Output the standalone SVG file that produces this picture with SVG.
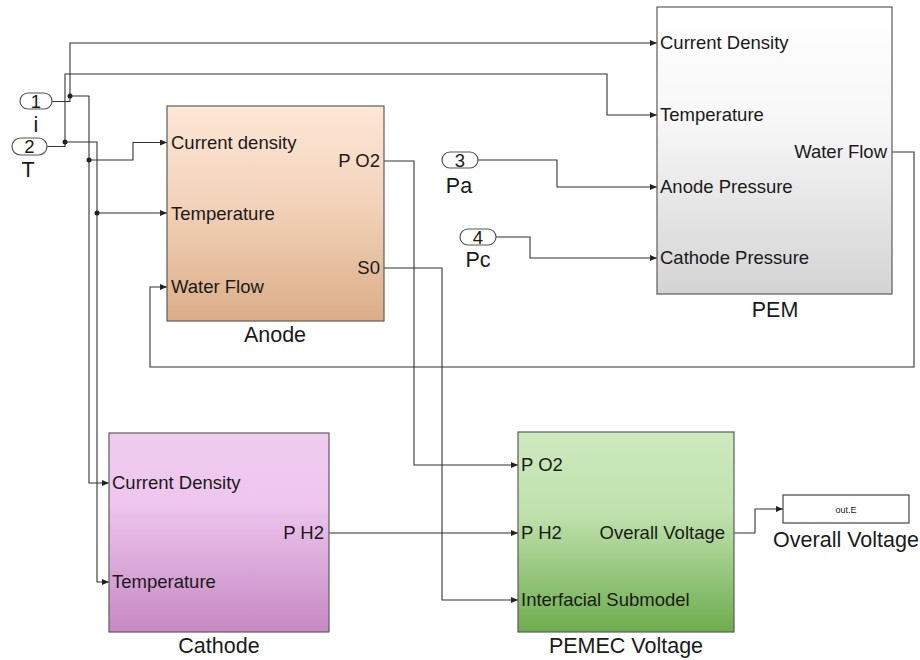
<svg xmlns="http://www.w3.org/2000/svg" width="920" height="660" viewBox="0 0 920 660">
<defs>
<linearGradient id="gAnode" x1="0" y1="0" x2="0" y2="1">
<stop offset="0" stop-color="#fde7d6"/><stop offset="0.45" stop-color="#f3d3ba"/><stop offset="1" stop-color="#dbad88"/>
</linearGradient>
<linearGradient id="gPEM" x1="0" y1="0" x2="0" y2="1">
<stop offset="0" stop-color="#ffffff"/><stop offset="0.4" stop-color="#f7f7f7"/><stop offset="1" stop-color="#d4d4d4"/>
</linearGradient>
<linearGradient id="gCath" x1="0" y1="0" x2="0" y2="1">
<stop offset="0" stop-color="#f0ccf0"/><stop offset="0.35" stop-color="#eec6ee"/><stop offset="1" stop-color="#c689c3"/>
</linearGradient>
<linearGradient id="gPemec" x1="0" y1="0" x2="0" y2="1">
<stop offset="0" stop-color="#cdeabf"/><stop offset="0.4" stop-color="#c0e2ae"/><stop offset="1" stop-color="#6eac4e"/>
</linearGradient>
<marker id="arr" markerWidth="7" markerHeight="6" refX="7" refY="3" orient="auto" markerUnits="userSpaceOnUse">
<path d="M0,0 L7,3 L0,6 z" fill="#222"/>
</marker>
</defs>
<style>
.blk{stroke:#5c5c5c;stroke-width:1.2}
.port{fill:#ffffff;stroke:#555;stroke-width:1.2}
.t{font-family:"Liberation Sans",Arial,sans-serif;font-size:18.5px;fill:#1a1a1a}
.title{font-family:"Liberation Sans",Arial,sans-serif;font-size:21.5px;fill:#1a1a1a}
.num{font-family:"Liberation Sans",Arial,sans-serif;font-size:18.5px;fill:#1a1a1a;text-anchor:middle}
.e{text-anchor:end}
.m{text-anchor:middle}
.w{fill:none;stroke:#333;stroke-width:1.1}
.dot{fill:#222}
</style>
<rect width="920" height="660" fill="#ffffff"/>

<g id="connectors">
<polyline class="w" points="52,101.5 70,101.5 70,43 657,43" marker-end="url(#arr)"/>
<polyline class="w" points="70,96 89,96 89,483 109,483" marker-end="url(#arr)"/>
<polyline class="w" points="89,160 133,160 133,142.5 167,142.5" marker-end="url(#arr)"/>
<polyline class="w" points="47,146.5 65,146.5 65,74 607,74 607,115 657,115" marker-end="url(#arr)"/>
<polyline class="w" points="65,142 97,142 97,582 109,582" marker-end="url(#arr)"/>
<polyline class="w" points="97,213 167,213" marker-end="url(#arr)"/>
<polyline class="w" points="892,152 914,152 914,367 150,367 150,287 167,287" marker-end="url(#arr)"/>
<polyline class="w" points="478,160 557,160 557,187 657,187" marker-end="url(#arr)"/>
<polyline class="w" points="496,237 530,237 530,258 657,258" marker-end="url(#arr)"/>
<polyline class="w" points="384,161 414,161 414,465 518,465" marker-end="url(#arr)"/>
<polyline class="w" points="384,268 442,268 442,600 518,600" marker-end="url(#arr)"/>
<polyline class="w" points="329,533 518,533" marker-end="url(#arr)"/>
<polyline class="w" points="734,533 755,533 755,509 783,509" marker-end="url(#arr)"/>
<circle class="dot" cx="70" cy="96" r="2.5"/>
<circle class="dot" cx="65" cy="142" r="2.5"/>
<circle class="dot" cx="89" cy="160" r="2.5"/>
<circle class="dot" cx="97" cy="213" r="2.5"/>
</g>

<g id="in1">
<rect class="port" x="20" y="93" width="32" height="16" rx="8"/>
<text class="num" x="36" y="108">1</text>
<text class="title m" x="36" y="132">i</text>
</g>
<g id="in2">
<rect class="port" x="12" y="138" width="35" height="17" rx="8.5"/>
<text class="num" x="29.5" y="153">2</text>
<text class="title m" x="28" y="177">T</text>
</g>
<g id="in3">
<rect class="port" x="442" y="152" width="36" height="16" rx="8"/>
<text class="num" x="460" y="167">3</text>
<text class="title m" x="459" y="193">Pa</text>
</g>
<g id="in4">
<rect class="port" x="460" y="229" width="36" height="16" rx="8"/>
<text class="num" x="478" y="244">4</text>
<text class="title m" x="478" y="267">Pc</text>
</g>

<g id="anode">
<rect class="blk" x="167" y="106" width="217" height="215" fill="url(#gAnode)"/>
<text class="t" x="171" y="149">Current density</text>
<text class="t" x="171" y="220">Temperature</text>
<text class="t" x="171" y="293">Water Flow</text>
<text class="t e" x="380" y="167">P O2</text>
<text class="t e" x="380" y="274">S0</text>
<text class="title m" x="275" y="342">Anode</text>
</g>

<g id="pem">
<rect class="blk" x="657" y="7" width="235" height="287" fill="url(#gPEM)"/>
<text class="t" x="660" y="49">Current Density</text>
<text class="t" x="660" y="121">Temperature</text>
<text class="t" x="660" y="193">Anode Pressure</text>
<text class="t" x="660" y="264">Cathode Pressure</text>
<text class="t e" x="887" y="158">Water Flow</text>
<text class="title m" x="775" y="317">PEM</text>
</g>

<g id="cathode">
<rect class="blk" x="109" y="433" width="220" height="199" fill="url(#gCath)"/>
<text class="t" x="112" y="489">Current Density</text>
<text class="t" x="112" y="588">Temperature</text>
<text class="t e" x="324" y="539">P H2</text>
<text class="title m" x="219" y="653">Cathode</text>
</g>

<g id="pemec">
<rect class="blk" x="518" y="432" width="216" height="200" fill="url(#gPemec)"/>
<text class="t" x="521" y="471">P O2</text>
<text class="t" x="521" y="539">P H2</text>
<text class="t" x="521" y="606">Interfacial Submodel</text>
<text class="t e" x="725" y="539">Overall Voltage</text>
<text class="title m" x="626" y="653">PEMEC Voltage</text>
</g>

<g id="out">
<rect x="783" y="495" width="126" height="28" fill="#ffffff" stroke="#444" stroke-width="1.2"/>
<text x="846" y="512.5" font-family="Liberation Sans, Arial, sans-serif" font-size="9" fill="#222" text-anchor="middle">out.E</text>
<text class="title m" x="846" y="547">Overall Voltage</text>
</g>
</svg>
